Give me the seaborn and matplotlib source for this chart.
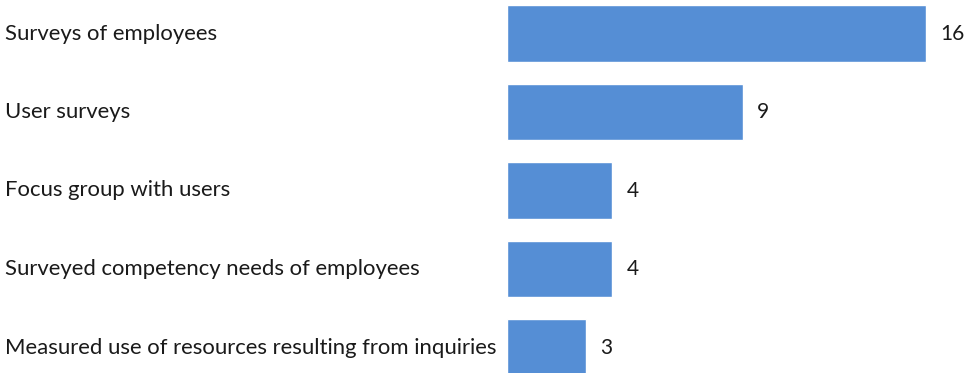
import matplotlib
matplotlib.use("Agg")
import matplotlib.pyplot as plt
import seaborn as sns
import pandas as pd

categories = [
    "Surveys of employees",
    "User surveys",
    "Focus group with users",
    "Surveyed competency needs of employees",
    "Measured use of resources resulting from inquiries",
]
values = [16, 9, 4, 4, 3]

sns.set_theme(style="white")
plt.rcParams["font.family"] = ["Lato", "DejaVu Sans"]

df = pd.DataFrame({"category": categories, "value": values})

W, H = 964, 373
fig = plt.figure(figsize=(W / 100, H / 100), dpi=100)
ax = fig.add_axes([507 / W, 0, (W - 507) / W, 1])

sns.barplot(data=df, x="value", y="category", orient="h", color="#558ED5",
            saturation=1, width=0.726, ax=ax)

px_per_unit = 419 / 16
ax.set_xlim(0, (W - 507) / px_per_unit)
ax.set_ylim((H - 33.5) / 78.5, -33.5 / 78.5)
ax.axis("off")

for i, (c, v) in enumerate(zip(categories, values)):
    ax.annotate(str(v), xy=(v, i), xytext=(10.5, 0), textcoords="offset points",
                ha="left", va="center", fontsize=15, color="#1a1a1a")
    ypix = 33.5 + 78.5 * i
    fig.text(5 / W, 1 - ypix / H, c, ha="left", va="center",
             fontsize=15.9, color="#1a1a1a")

fig.savefig("out.png", dpi=100)
